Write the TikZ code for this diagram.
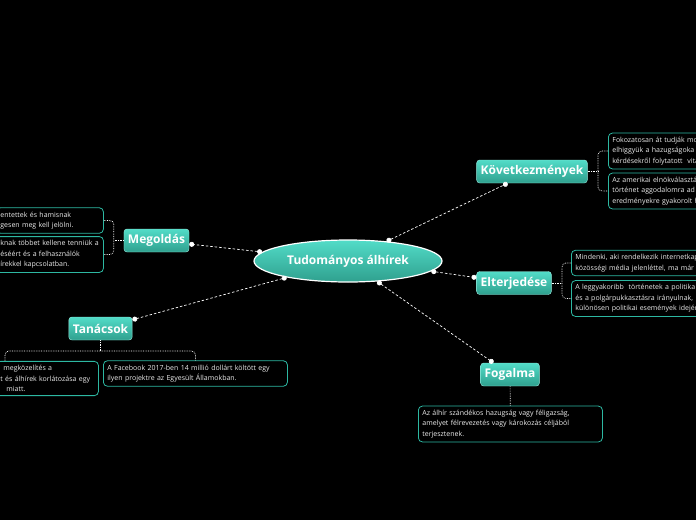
\documentclass[tikz,border=0pt]{standalone}
\usepackage{fontspec}
\setmainfont{Open Sans}
\usetikzlibrary{arrows.meta, shapes.geometric}
\definecolor{tealtop}{HTML}{52DCC8}
\definecolor{tealbot}{HTML}{2FA08E}
\definecolor{leafline}{HTML}{2DB8A2}
\tikzset{every node/.style={font=\fontsize{7}{10.4}\selectfont}}

\begin{document}
\begin{tikzpicture}[x=1pt, y=-1pt,
    topic/.style={rounded corners=3pt, draw=tealtop!60!white, top color=tealtop, bottom color=tealbot,
        text=white, font=\fontsize{12}{14}\selectfont\bfseries, minimum height=23pt, inner xsep=4pt, inner ysep=2pt},
    leaf/.style={rounded corners=4pt, draw=leafline, fill=black, text=white!92!black, align=left,
        inner sep=4pt, anchor=west, line width=0.8pt},
    link/.style={draw=white, line width=0.7pt, dash pattern=on 2.5pt off 2pt,
        {Circle[length=5pt]}-{Circle[length=5pt]}},
    brace/.style={draw=white, line width=0.7pt, densely dotted, rounded corners=4pt}]

    \useasboundingbox (0,0) rectangle (696,520);
    \clip (0,0) rectangle (696,520);
    \fill[black] (0,0) rectangle (696,520);

    % Central topic
    \node[ellipse, draw=white, line width=1.2pt, top color=tealtop, bottom color=tealbot, text=white,
        minimum width=188pt, minimum height=42pt, font=\fontsize{12}{14}\selectfont\bfseries]
        (c) at (348,261) {Tudományos álhírek};

    % Main topics
    \node[topic] (kv) at (532,171.5) {Következmények};
    \node[topic] (el) at (514,283) {Elterjedése};
    \node[topic] (fg) at (510,374.5) {Fogalma};
    \node[topic] (mg) at (156.5,240.5) {Megoldás};
    \node[topic] (tn) at (100.5,328.5) {Tanácsok};

    % Subtopics
    \node[leaf, text width=120pt] (kv1) at (608,151) {Fokozatosan át tudják mo\\elhiggyük a hazugságoka\\kérdésekről folytatott \ vita};
    \node[leaf, text width=120pt] (kv2) at (608,191) {Az amerikai elnökválasztá\\történet aggodalomra ad\\eredményekre gyakorolt h};
    \node[leaf, text width=150pt] (el1) at (571,263) {Mindenki, aki rendelkezik internetkap\\közösségi média jelenléttel, ma már};
    \node[leaf, text width=150pt] (el2) at (571,298.5) {A leggyakoribb \ történetek a politika\\és a polgárpukkasztásra irányulnak,\\különösen politikai események idején};
    \node[leaf, text width=99pt] (mg1) at (-4,220.5) {entettek és hamisnak\\gesen meg kell jelölni.};
    \node[leaf, text width=99pt] (mg2) at (-4,254.5) {knak többet kellene tenniük a\\éséért és a felhasználók\\írekkel kapcsolatban.};
    \node[leaf, text width=94pt] (tn1) at (-4,378.5) {\hspace{3pt}megközelítés a\\t és álhírek korlátozása egy\\\hspace{6pt}miatt.};
    \node[leaf, text width=176pt] (tn2) at (103,373.5) {A Facebook 2017-ben 14 millió dollárt költött egy\\ilyen projektre az Egyesült Államokban.};
    \node[leaf, text width=176pt] (fgl) at (418,424) {Az álhír szándékos hazugság vagy féligazság,\\amelyet félrevezetés vagy károkozás céljából\\terjesztenek.};
    \coordinate (tb) at (5,0);

    % Links
    \draw[link] (c.27) -- (kv);
    \draw[link] (c.-7) -- (el);
    \draw[link] (c.-35) -- (fg);
    \draw[link] (c.174) -- (mg);
    \draw[link] (c.195) -- (tn);

    % Braces
    \draw[brace] (kv.east) -- ++(11,0);
    \draw[brace] (kv1.west) -- ++(-10,0) |- (kv2.west);
    \draw[brace] (el.east) -- ++(10,0);
    \draw[brace] (el1.west) -- ++(-9,0) |- (el2.west);
    \draw[brace] (mg.west) -- ++(-10,0);
    \draw[brace] (mg1.east) -- ++(10,0) |- (mg2.east);
    \draw[brace] (tn.south) -- ++(0,11);
    \draw[brace] (tn1.north -| tb) -- ++(0,-10) -| (tn2.north);
    \draw[brace] (fg) -- (fgl);

\end{tikzpicture}
\end{document}
